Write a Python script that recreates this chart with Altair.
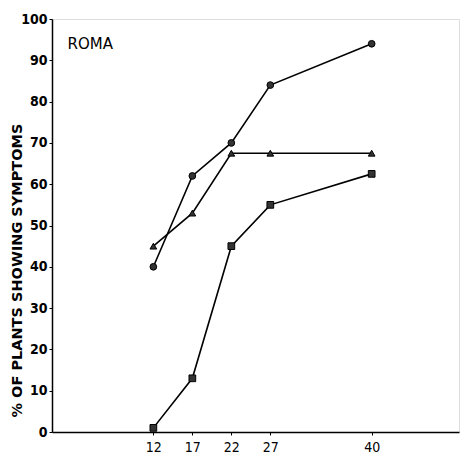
import altair as alt
import pandas as pd

x_vals = [12, 17, 22, 27, 40]
circle_vals = [40, 62, 70, 84, 94]
triangle_vals = [45, 53, 67.5, 67.5, 67.5]
square_vals = [1, 13, 45, 55, 62.5]
y_ticks = [0, 10, 20, 30, 40, 50, 60, 70, 80, 90, 100]
panel_label = "ROMA"

rows = []
for name, vals in [("circle", circle_vals), ("triangle-up", triangle_vals), ("square", square_vals)]:
    for xv, yv in zip(x_vals, vals):
        rows.append({"x": xv, "y": yv, "series": name})
df = pd.DataFrame(rows)

FONT = "DejaVu Sans Condensed"

xscale = alt.Scale(domain=[-1, 51.2], nice=False, zero=False)
yscale = alt.Scale(domain=[0, 100], nice=False)

base = alt.Chart(df).encode(
    x=alt.X("x:Q", scale=xscale, axis=alt.Axis(
        values=x_vals, title=None, grid=False, domainColor="black", domainWidth=1.5,
        tickColor="black", tickSize=3, labelFont=FONT, labelFontSize=14,
        labelColor="black", labelPadding=5)),
    y=alt.Y("y:Q", scale=yscale, axis=alt.Axis(
        values=y_ticks, title="% OF PLANTS SHOWING SYMPTOMS", grid=False,
        domainColor="black", domainWidth=1.5, tickColor="black", tickSize=3,
        labelFont=FONT, labelFontSize=14, labelFontWeight="bold", labelColor="black",
        labelPadding=2, titleFont="DejaVu Sans", titleFontSize=14.5, titleFontWeight="bold",
        titleColor="black", titleX=-35, titleY=251, titleAlign="center",
        titleBaseline="middle", titleAngle=270)),
)

lines = base.mark_line(color="black", strokeWidth=1.6).encode(detail="series:N")
points = base.mark_point(filled=True, size=45, color="#333333", opacity=1, stroke="black", strokeWidth=1).encode(
    shape=alt.Shape("series:N", scale=alt.Scale(domain=["circle", "triangle-up", "square"],
                                                range=["circle", "triangle-up", "square"]), legend=None)
)

label = alt.Chart(pd.DataFrame({"t": [panel_label]})).mark_text(
    align="left", baseline="middle", font="DejaVu Sans", fontSize=15, color="black"
).encode(x=alt.datum(1), y=alt.datum(94), text="t:N")

chart = (lines + points + label).properties(
    width=407, height=413,
    autosize=alt.AutoSizeParams(type="none"),
    padding={"left": 52, "top": 19, "right": 2, "bottom": 27},
).configure_view(stroke="black", strokeWidth=1.5).configure(background="white")

chart.save("out.html", embed_options={"renderer": "svg", "actions": False})
